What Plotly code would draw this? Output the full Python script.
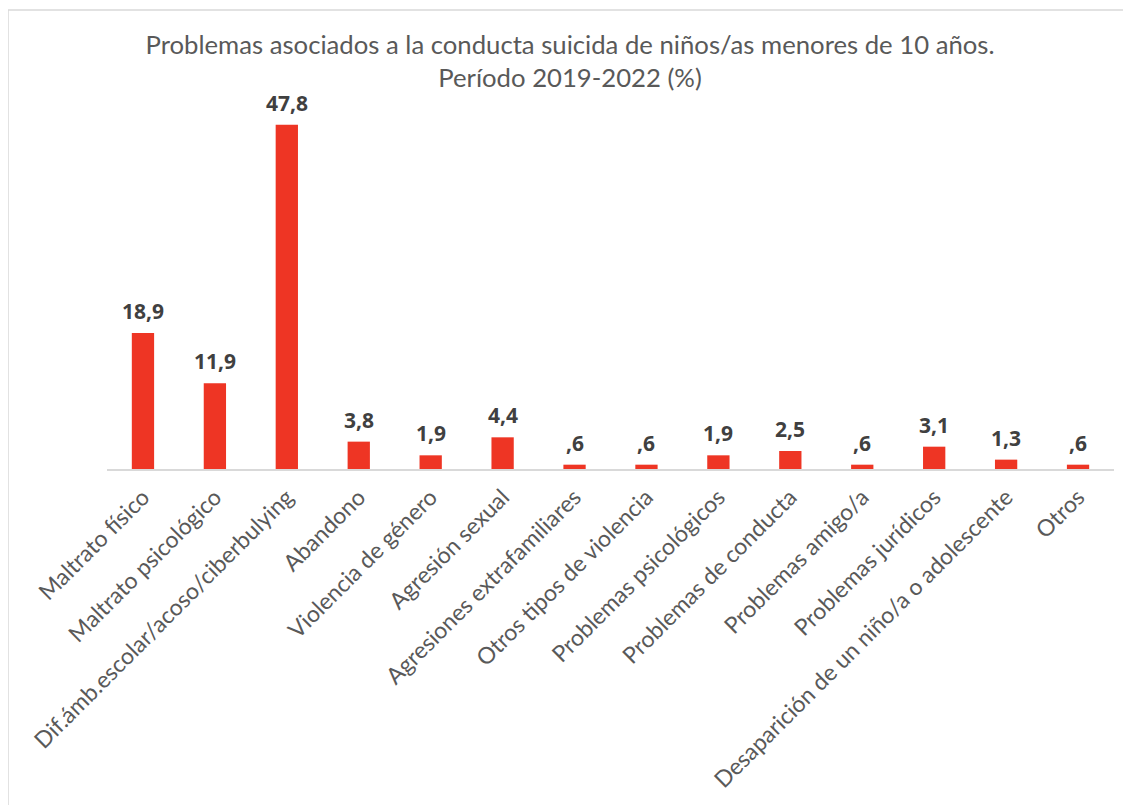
import plotly.graph_objects as go

categories = ["Maltrato físico", "Maltrato psicológico", "Dif.ámb.escolar/acoso/ciberbulying",
              "Abandono", "Violencia de género", "Agresión sexual", "Agresiones extrafamiliares",
              "Otros tipos de violencia", "Problemas psicológicos", "Problemas de conducta",
              "Problemas amigo/a", "Problemas jurídicos", "Desaparición de un niño/a o adolescente",
              "Otros"]
values = [18.9, 11.9, 47.8, 3.8, 1.9, 4.4, 0.6, 0.6, 1.9, 2.5, 0.6, 3.1, 1.3, 0.6]
labels = ["18,9", "11,9", "47,8", "3,8", "1,9", "4,4", ",6", ",6", "1,9", "2,5", ",6", "3,1", "1,3", ",6"]

# page has an 8px body margin; figure coordinates are offset accordingly
W, H = 1123, 797
ml, mr, mt, mb = 99, 17, 92, 336
pw, ph = W - ml - mr, H - mt - mb

fig = go.Figure(go.Bar(
    x=categories, y=values,
    marker=dict(color="#EE3524", line=dict(width=0)),
    width=0.31,
    hoverinfo="x+y",
))

for c, v, t in zip(categories, values, labels):
    fig.add_annotation(x=c, y=v, text=t, showarrow=False, xanchor="center", yanchor="bottom",
                       yshift=6,
                       font=dict(family="Open Sans", size=21, color="#404040", weight="bold"))

def px(x):
    return (x - ml) / pw

def py(y):
    return 1 - (y - mt) / ph

fig.add_shape(type="rect", xref="paper", yref="paper",
              x0=px(0), x1=px(1118), y0=py(2), y1=py(805),
              line=dict(color="#D9D9D9", width=1.5), layer="below")

fig.update_layout(
    width=W, height=H,
    margin=dict(l=ml, r=mr, t=mt, b=mb),
    plot_bgcolor="white", paper_bgcolor="white",
    title=dict(text="Problemas asociados a la conducta suicida de niños/as menores de 10 años.<br>Período 2019-2022 (%)",
               x=562 / W, xref="container", xanchor="center", y=1 - 46 / H, yanchor="middle",
               font=dict(family="Lato", size=25.7, color="#595959")),
    xaxis=dict(tickangle=-45, tickfont=dict(family="Lato", size=23, color="#595959"),
               showline=True, linecolor="#D9D9D9", linewidth=1.5, ticks="", showgrid=False,
               ticklabelstandoff=4, range=[-0.5, 13.5]),
    yaxis=dict(visible=False, range=[0, ph / 7.2], showgrid=False, zeroline=False),
    showlegend=False,
)

fig.write_html("out.html")
